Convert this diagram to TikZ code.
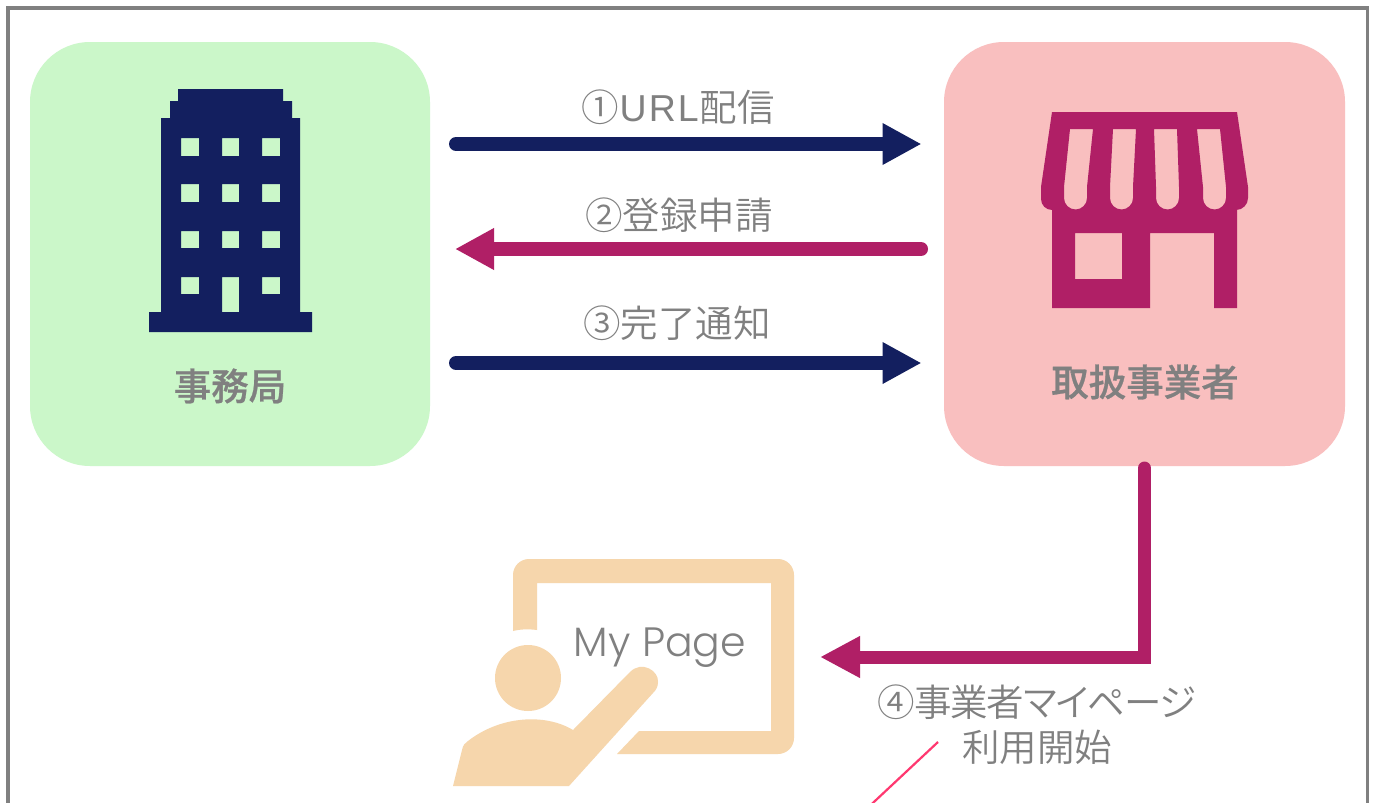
\documentclass[tikz,border=0pt]{standalone}
\usepackage{fontspec}
\setmainfont{Noto Sans CJK JP}
\newfontfamily\lightcjk{Noto Sans CJK JP DemiLight}
\newfontfamily\mediumcjk[FakeBold=0.7]{Noto Sans CJK JP Medium}
\newfontfamily\latinfont{Poppins Light}
\newfontfamily\urlfont{Liberation Sans}
\usetikzlibrary{arrows.meta}
\definecolor{navyc}{HTML}{131F5F}
\definecolor{magc}{HTML}{B01F66}
\definecolor{greenc}{HTML}{CBF7C9}
\definecolor{pinkc}{HTML}{F9BFBF}
\definecolor{tanc}{HTML}{F6D6AC}
\definecolor{grayc}{HTML}{808080}
\definecolor{linec}{HTML}{FF3870}
\tikzset{
  panel/.style={rounded corners=60pt,minimum height=424pt,inner sep=0pt},
  lbl/.style={text=grayc,font=\lightcjk\fontsize{37.5}{45}\selectfont,inner sep=0pt,align=center},
  lblb/.style={text=grayc,font=\mediumcjk\fontsize{37.5}{45}\selectfont,inner sep=0pt},
  conn/.style={line width=14pt,line cap=round,-{Triangle[length=39pt,width=39pt]}}
}
\begin{document}
\begin{tikzpicture}[x=1pt,y=-1pt]
\useasboundingbox (0,0) rectangle (1376,803);
\clip (0,0) rectangle (1376,803);
\fill[white] (0,0) rectangle (1376,803);
\draw[grayc,line width=3.5pt] (8,8) rectangle (1367.5,830);
\node[panel,fill=greenc,minimum width=400pt] (office) at (230,254) {};
\node[panel,fill=pinkc,minimum width=401pt] (shop) at (1144.5,254) {};
% building
\fill[navyc,even odd rule]
  (178,89)--(283,89)--(283,101)--(292,101)--(292,118)--(300,118)--(300,312)--(312,312)--(312,332)--(149,332)--(149,312)--(161,312)--(161,118)--(170,118)--(170,101)--(178,101)--cycle
  (181,138) rectangle (199,156) (222,138) rectangle (239,156) (262,138) rectangle (280,156)
  (181,184) rectangle (199,202) (222,184) rectangle (239,202) (262,184) rectangle (280,202)
  (181,231) rectangle (199,248) (222,231) rectangle (239,248) (262,231) rectangle (280,248)
  (181,277) rectangle (199,294) (222,277) rectangle (239,312) (262,277) rectangle (280,294);
% shop
\fill[magc,even odd rule]
  (1052,112)--(1237,112)--(1248,187)--(1248,198) arc[start angle=0,end angle=90,radius=12]
  --(1237,210)--(1237,308)--(1214,308)--(1214,233)--(1150,233)--(1150,308)--(1052,308)--(1052,210)
  arc[start angle=90,end angle=180,radius=11]--(1041,187)--cycle
  (1075,233) rectangle (1122,279)
  (1070,129)--(1093,129)--(1087,187)--(1087,198) arc[start angle=0,end angle=180,radius=11.5]--(1064,187)--cycle
  (1113,129)--(1136,129)--(1133,187)--(1133,198) arc[start angle=0,end angle=180,radius=11.5]--(1110,187)--cycle
  (1154,129)--(1177,129)--(1179,187)--(1179,198) arc[start angle=0,end angle=180,radius=11.5]--(1156,187)--cycle
  (1197,129)--(1220,129)--(1226,187)--(1226,198) arc[start angle=0,end angle=180,radius=11.5]--(1203,187)--cycle;
% my page icon
\fill[tanc]
  (513,631)--(513,575) arc[start angle=180,end angle=270,radius=16]--(778,559) arc[start angle=-90,end angle=0,radius=16]
  --(794,738) arc[start angle=0,end angle=90,radius=16]--(617,754)--(639,731)--(771,731)--(771,583)--(537,583)--(537,630)
  .. controls (529,629) and (521,629) .. (513,631) --cycle;
\fill[tanc] (528,678) circle[radius=33];
\fill[tanc] (453,786)--(462,750) .. controls (463,745) and (465,743) .. (468,741)
  .. controls (500,716) and (545,713) .. (573,730)--(630,672)
  .. controls (642,660) and (659,671) .. (658,682) .. controls (658,687) and (656,690) .. (653,693)
  --(569,786)--cycle;
% labels
\node[lblb] (officeLabel) at (230,386) {事務局};
\node[lblb] (shopLabel) at (1145,382) {取扱事業者};
\node[lbl] (l1) at (678,107) {①{\urlfont\kern1pt U\kern2pt R\kern2pt L\kern1pt}配信};
\node[lbl] (l2) at (679,215) {②登録申請};
\node[lbl] (l3) at (677,323) {③完了通知};
\node[lbl] (l4) at (1037,725) {{\addfontfeature{RawFeature=+palt,LetterSpace=-3}④事業者マイページ}\\利用開始};
\node[anchor=base,text=grayc,inner sep=0pt,font=\latinfont\fontsize{41}{48}\selectfont] (mp) at (660,656) {My Page};
% connectors
\coordinate (a1s) at (456,144); \coordinate (a1e) at (921.5,144);
\coordinate (a2s) at (921,249); \coordinate (a2e) at (455,249);
\coordinate (a3s) at (456,363); \coordinate (a3e) at (921.5,363);
\coordinate (a4s) at (1144.5,468); \coordinate (a4c) at (1144.5,657); \coordinate (a4e) at (820,657);
\coordinate (ps) at (938,742); \coordinate (pe) at (860,815);
\draw[conn,navyc] (a1s)--(a1e);
\draw[conn,magc] (a2s)--(a2e);
\draw[conn,navyc] (a3s)--(a3e);
\draw[magc,line width=13pt,line cap=round,miter limit=10,-{Triangle[length=40pt,width=39pt]}] (a4s)--(a4c)--(a4e);
\draw[linec,line width=2.2pt] (ps)--(pe);
\end{tikzpicture}
\end{document}
